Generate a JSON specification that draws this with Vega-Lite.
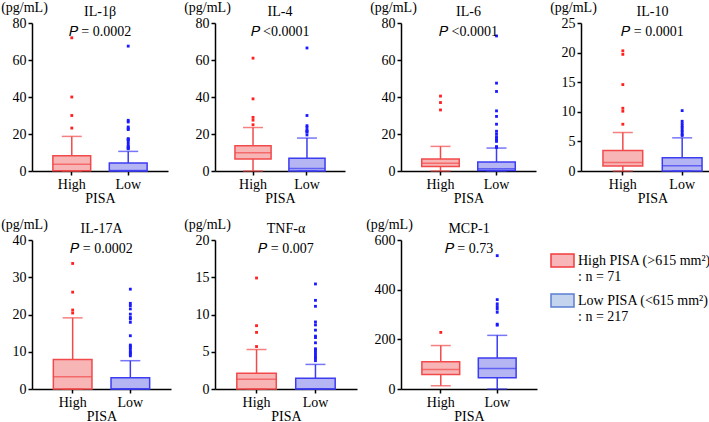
{
  "$schema": "https://vega.github.io/schema/vega-lite/v6.json",
  "padding": 0,
  "background": "white",
  "datasets": {
    "box": [
      {"c": "IL-1β", "g": "High", "lo": 0, "q1": 0.2, "med": 3.6, "q3": 8.3, "hi": 18.7},
      {"c": "IL-1β", "g": "Low", "lo": 0, "q1": 0, "med": 0.3, "q3": 4.3, "hi": 10.6},
      {"c": "IL-4", "g": "High", "lo": 0, "q1": 6.5, "med": 9.8, "q3": 13.6, "hi": 23.5},
      {"c": "IL-4", "g": "Low", "lo": 0, "q1": 0, "med": 1.4, "q3": 6.9, "hi": 17.8},
      {"c": "IL-6", "g": "High", "lo": 0, "q1": 2.4, "med": 4.2, "q3": 6.5, "hi": 13.3},
      {"c": "IL-6", "g": "Low", "lo": 0, "q1": 0.3, "med": 1.2, "q3": 4.9, "hi": 12.4},
      {"c": "IL-10", "g": "High", "lo": 0, "q1": 0.85, "med": 1.45, "q3": 3.45, "hi": 6.5},
      {"c": "IL-10", "g": "Low", "lo": 0, "q1": 0, "med": 0.9, "q3": 2.25, "hi": 5.6},
      {"c": "IL-17A", "g": "High", "lo": 0, "q1": 0, "med": 3.3, "q3": 7.9, "hi": 19.1},
      {"c": "IL-17A", "g": "Low", "lo": 0, "q1": 0, "med": 0.1, "q3": 3.0, "hi": 7.6},
      {"c": "TNF-α", "g": "High", "lo": 0, "q1": 0, "med": 1.3, "q3": 2.1, "hi": 5.3},
      {"c": "TNF-α", "g": "Low", "lo": 0, "q1": 0, "med": 0.05, "q3": 1.45, "hi": 3.3},
      {"c": "MCP-1", "g": "High", "lo": 13, "q1": 58, "med": 79, "q3": 110, "hi": 175},
      {"c": "MCP-1", "g": "Low", "lo": 0, "q1": 45, "med": 83, "q3": 125, "hi": 216}
    ],
    "out": [
      {"c": "IL-1β", "g": "High", "v": 72}, {"c": "IL-1β", "g": "High", "v": 40}, {"c": "IL-1β", "g": "High", "v": 30}, {"c": "IL-1β", "g": "High", "v": 23.2},
      {"c": "IL-1β", "g": "Low", "v": 67.5}, {"c": "IL-1β", "g": "Low", "v": 27.4}, {"c": "IL-1β", "g": "Low", "v": 26.5}, {"c": "IL-1β", "g": "Low", "v": 23.8}, {"c": "IL-1β", "g": "Low", "v": 22.9}, {"c": "IL-1β", "g": "Low", "v": 22.4}, {"c": "IL-1β", "g": "Low", "v": 17.5}, {"c": "IL-1β", "g": "Low", "v": 17.1}, {"c": "IL-1β", "g": "Low", "v": 16.8}, {"c": "IL-1β", "g": "Low", "v": 15.7}, {"c": "IL-1β", "g": "Low", "v": 14.4}, {"c": "IL-1β", "g": "Low", "v": 13.3}, {"c": "IL-1β", "g": "Low", "v": 12.8}, {"c": "IL-1β", "g": "Low", "v": 12.3}, {"c": "IL-1β", "g": "Low", "v": 12.0},
      {"c": "IL-4", "g": "High", "v": 61}, {"c": "IL-4", "g": "High", "v": 39}, {"c": "IL-4", "g": "High", "v": 29}, {"c": "IL-4", "g": "High", "v": 27.5}, {"c": "IL-4", "g": "High", "v": 25},
      {"c": "IL-4", "g": "Low", "v": 66.5}, {"c": "IL-4", "g": "Low", "v": 30}, {"c": "IL-4", "g": "Low", "v": 24.5}, {"c": "IL-4", "g": "Low", "v": 23.5}, {"c": "IL-4", "g": "Low", "v": 22}, {"c": "IL-4", "g": "Low", "v": 21.5}, {"c": "IL-4", "g": "Low", "v": 21}, {"c": "IL-4", "g": "Low", "v": 19.5},
      {"c": "IL-6", "g": "High", "v": 40.5}, {"c": "IL-6", "g": "High", "v": 37}, {"c": "IL-6", "g": "High", "v": 33},
      {"c": "IL-6", "g": "Low", "v": 73}, {"c": "IL-6", "g": "Low", "v": 47.5}, {"c": "IL-6", "g": "Low", "v": 43}, {"c": "IL-6", "g": "Low", "v": 32.5}, {"c": "IL-6", "g": "Low", "v": 29.5}, {"c": "IL-6", "g": "Low", "v": 25.3}, {"c": "IL-6", "g": "Low", "v": 21.5}, {"c": "IL-6", "g": "Low", "v": 20}, {"c": "IL-6", "g": "Low", "v": 18.5}, {"c": "IL-6", "g": "Low", "v": 17.6}, {"c": "IL-6", "g": "Low", "v": 16.7}, {"c": "IL-6", "g": "Low", "v": 16}, {"c": "IL-6", "g": "Low", "v": 13.2}, {"c": "IL-6", "g": "Low", "v": 12.7},
      {"c": "IL-10", "g": "High", "v": 20.3}, {"c": "IL-10", "g": "High", "v": 19.7}, {"c": "IL-10", "g": "High", "v": 14.6}, {"c": "IL-10", "g": "High", "v": 10.6}, {"c": "IL-10", "g": "High", "v": 10.1}, {"c": "IL-10", "g": "High", "v": 7.9},
      {"c": "IL-10", "g": "Low", "v": 10.2}, {"c": "IL-10", "g": "Low", "v": 8.4}, {"c": "IL-10", "g": "Low", "v": 8.0}, {"c": "IL-10", "g": "Low", "v": 7.6}, {"c": "IL-10", "g": "Low", "v": 7.3}, {"c": "IL-10", "g": "Low", "v": 6.9}, {"c": "IL-10", "g": "Low", "v": 6.6}, {"c": "IL-10", "g": "Low", "v": 6.2}, {"c": "IL-10", "g": "Low", "v": 6.0},
      {"c": "IL-17A", "g": "High", "v": 33.7}, {"c": "IL-17A", "g": "High", "v": 26}, {"c": "IL-17A", "g": "High", "v": 21.2}, {"c": "IL-17A", "g": "High", "v": 20.4},
      {"c": "IL-17A", "g": "Low", "v": 26.8}, {"c": "IL-17A", "g": "Low", "v": 23}, {"c": "IL-17A", "g": "Low", "v": 22.4}, {"c": "IL-17A", "g": "Low", "v": 21.5}, {"c": "IL-17A", "g": "Low", "v": 20.1}, {"c": "IL-17A", "g": "Low", "v": 19.2}, {"c": "IL-17A", "g": "Low", "v": 18.8}, {"c": "IL-17A", "g": "Low", "v": 17.9}, {"c": "IL-17A", "g": "Low", "v": 14.3}, {"c": "IL-17A", "g": "Low", "v": 11.8}, {"c": "IL-17A", "g": "Low", "v": 11.5}, {"c": "IL-17A", "g": "Low", "v": 11.1}, {"c": "IL-17A", "g": "Low", "v": 10.6}, {"c": "IL-17A", "g": "Low", "v": 10}, {"c": "IL-17A", "g": "Low", "v": 9.7}, {"c": "IL-17A", "g": "Low", "v": 9.3}, {"c": "IL-17A", "g": "Low", "v": 8.9},
      {"c": "TNF-α", "g": "High", "v": 14.9}, {"c": "TNF-α", "g": "High", "v": 8.5}, {"c": "TNF-α", "g": "High", "v": 7.6}, {"c": "TNF-α", "g": "High", "v": 5.7},
      {"c": "TNF-α", "g": "Low", "v": 14.1}, {"c": "TNF-α", "g": "Low", "v": 11.9}, {"c": "TNF-α", "g": "Low", "v": 11.1}, {"c": "TNF-α", "g": "Low", "v": 9.0}, {"c": "TNF-α", "g": "Low", "v": 8.6}, {"c": "TNF-α", "g": "Low", "v": 7.9}, {"c": "TNF-α", "g": "Low", "v": 7.1}, {"c": "TNF-α", "g": "Low", "v": 6.9}, {"c": "TNF-α", "g": "Low", "v": 6.2}, {"c": "TNF-α", "g": "Low", "v": 5.4}, {"c": "TNF-α", "g": "Low", "v": 5.2}, {"c": "TNF-α", "g": "Low", "v": 4.9}, {"c": "TNF-α", "g": "Low", "v": 4.6}, {"c": "TNF-α", "g": "Low", "v": 4.3}, {"c": "TNF-α", "g": "Low", "v": 4.1}, {"c": "TNF-α", "g": "Low", "v": 3.8},
      {"c": "MCP-1", "g": "High", "v": 228},
      {"c": "MCP-1", "g": "Low", "v": 537}, {"c": "MCP-1", "g": "Low", "v": 360}, {"c": "MCP-1", "g": "Low", "v": 343}, {"c": "MCP-1", "g": "Low", "v": 332}, {"c": "MCP-1", "g": "Low", "v": 322}, {"c": "MCP-1", "g": "Low", "v": 309}, {"c": "MCP-1", "g": "Low", "v": 261}, {"c": "MCP-1", "g": "Low", "v": 257}
    ]
  },
  "columns": 4,
  "align": "none",
  "bounds": "flush",
  "spacing": {"row": 69, "column": 44},
  "concat": [
    {
      "width": 136, "height": 148,
      "title": {"text": "IL-1β", "subtitle": "𝑃 = 0.0002"},
      "data": {"name": "box"},
      "transform": [{"filter": "datum.c === 'IL-1β'"}],
      "encoding": {"x": {"field": "g", "type": "nominal", "title": "PISA", "sort": ["High", "Low"], "scale": {"paddingInner": 0.33, "paddingOuter": 0.37}}},
      "layer": [
        {"mark": {"type": "rule", "strokeWidth": 1.5}, "encoding": {"y": {"field": "lo", "type": "quantitative", "title": "(pg/mL)", "scale": {"domain": [0, 80], "nice": false}, "axis": {"values": [0, 20, 40, 60, 80], "labelOverlap": false}}, "y2": {"field": "hi"}, "color": {"condition": {"test": "datum.g === 'High'", "value": "#f24a4a"}, "value": "#3c3cf2"}}},
        {"mark": {"type": "bar", "strokeWidth": 1.5}, "encoding": {"y": {"field": "q1", "type": "quantitative", "title": "(pg/mL)", "axis": {"values": [0, 20, 40, 60, 80], "labelOverlap": false}}, "y2": {"field": "q3"}, "fill": {"condition": {"test": "datum.g === 'High'", "value": "#f7b5b6"}, "value": "#b5b5f3"}, "stroke": {"condition": {"test": "datum.g === 'High'", "value": "#f24a4a"}, "value": "#3c3cf2"}}},
        {"mark": {"type": "tick", "size": 37.8, "thickness": 1.5}, "encoding": {"y": {"field": "med", "type": "quantitative", "title": "(pg/mL)", "axis": {"values": [0, 20, 40, 60, 80], "labelOverlap": false}}, "color": {"condition": {"test": "datum.g === 'High'", "value": "#f24a4a"}, "value": "#3c3cf2"}}},
        {"mark": {"type": "tick", "size": 20, "thickness": 1.5}, "encoding": {"y": {"field": "hi", "type": "quantitative", "title": "(pg/mL)", "axis": {"values": [0, 20, 40, 60, 80], "labelOverlap": false}}, "color": {"condition": {"test": "datum.g === 'High'", "value": "#f24a4a"}, "value": "#3c3cf2"}}},
        {"mark": {"type": "tick", "size": 20, "thickness": 1.5}, "encoding": {"y": {"field": "lo", "type": "quantitative", "title": "(pg/mL)", "axis": {"values": [0, 20, 40, 60, 80], "labelOverlap": false}}, "color": {"condition": {"test": "datum.g === 'High'", "value": "#f24a4a"}, "value": "#3c3cf2"}}},
        {"data": {"name": "out"}, "transform": [{"filter": "datum.c === 'IL-1β'"}], "mark": {"type": "point", "filled": true, "shape": "square", "size": 8, "opacity": 1}, "encoding": {"y": {"field": "v", "type": "quantitative", "title": "(pg/mL)", "axis": {"values": [0, 20, 40, 60, 80], "labelOverlap": false}}, "color": {"condition": {"test": "datum.g === 'High'", "value": "#ff2020"}, "value": "#1a1aff"}}}
      ]
    },
    {
      "width": 130, "height": 148,
      "title": {"text": "IL-4", "subtitle": "𝑃 <0.0001"},
      "data": {"name": "box"},
      "transform": [{"filter": "datum.c === 'IL-4'"}],
      "encoding": {"x": {"field": "g", "type": "nominal", "title": "PISA", "sort": ["High", "Low"], "scale": {"paddingInner": 0.33, "paddingOuter": 0.37}}},
      "layer": [
        {"mark": {"type": "rule", "strokeWidth": 1.5}, "encoding": {"y": {"field": "lo", "type": "quantitative", "title": "(pg/mL)", "scale": {"domain": [0, 80], "nice": false}, "axis": {"values": [0, 20, 40, 60, 80], "labelOverlap": false}}, "y2": {"field": "hi"}, "color": {"condition": {"test": "datum.g === 'High'", "value": "#f24a4a"}, "value": "#3c3cf2"}}},
        {"mark": {"type": "bar", "strokeWidth": 1.5}, "encoding": {"y": {"field": "q1", "type": "quantitative", "title": "(pg/mL)", "axis": {"values": [0, 20, 40, 60, 80], "labelOverlap": false}}, "y2": {"field": "q3"}, "fill": {"condition": {"test": "datum.g === 'High'", "value": "#f7b5b6"}, "value": "#b5b5f3"}, "stroke": {"condition": {"test": "datum.g === 'High'", "value": "#f24a4a"}, "value": "#3c3cf2"}}},
        {"mark": {"type": "tick", "size": 36.1, "thickness": 1.5}, "encoding": {"y": {"field": "med", "type": "quantitative", "title": "(pg/mL)", "axis": {"values": [0, 20, 40, 60, 80], "labelOverlap": false}}, "color": {"condition": {"test": "datum.g === 'High'", "value": "#f24a4a"}, "value": "#3c3cf2"}}},
        {"mark": {"type": "tick", "size": 20, "thickness": 1.5}, "encoding": {"y": {"field": "hi", "type": "quantitative", "title": "(pg/mL)", "axis": {"values": [0, 20, 40, 60, 80], "labelOverlap": false}}, "color": {"condition": {"test": "datum.g === 'High'", "value": "#f24a4a"}, "value": "#3c3cf2"}}},
        {"mark": {"type": "tick", "size": 20, "thickness": 1.5}, "encoding": {"y": {"field": "lo", "type": "quantitative", "title": "(pg/mL)", "axis": {"values": [0, 20, 40, 60, 80], "labelOverlap": false}}, "color": {"condition": {"test": "datum.g === 'High'", "value": "#f24a4a"}, "value": "#3c3cf2"}}},
        {"data": {"name": "out"}, "transform": [{"filter": "datum.c === 'IL-4'"}], "mark": {"type": "point", "filled": true, "shape": "square", "size": 8, "opacity": 1}, "encoding": {"y": {"field": "v", "type": "quantitative", "title": "(pg/mL)", "axis": {"values": [0, 20, 40, 60, 80], "labelOverlap": false}}, "color": {"condition": {"test": "datum.g === 'High'", "value": "#ff2020"}, "value": "#1a1aff"}}}
      ]
    },
    {
      "width": 135, "height": 148,
      "title": {"text": "IL-6", "subtitle": "𝑃 <0.0001"},
      "data": {"name": "box"},
      "transform": [{"filter": "datum.c === 'IL-6'"}],
      "encoding": {"x": {"field": "g", "type": "nominal", "title": "PISA", "sort": ["High", "Low"], "scale": {"paddingInner": 0.33, "paddingOuter": 0.37}}},
      "layer": [
        {"mark": {"type": "rule", "strokeWidth": 1.5}, "encoding": {"y": {"field": "lo", "type": "quantitative", "title": "(pg/mL)", "scale": {"domain": [0, 80], "nice": false}, "axis": {"values": [0, 20, 40, 60, 80], "labelOverlap": false}}, "y2": {"field": "hi"}, "color": {"condition": {"test": "datum.g === 'High'", "value": "#f24a4a"}, "value": "#3c3cf2"}}},
        {"mark": {"type": "bar", "strokeWidth": 1.5}, "encoding": {"y": {"field": "q1", "type": "quantitative", "title": "(pg/mL)", "axis": {"values": [0, 20, 40, 60, 80], "labelOverlap": false}}, "y2": {"field": "q3"}, "fill": {"condition": {"test": "datum.g === 'High'", "value": "#f7b5b6"}, "value": "#b5b5f3"}, "stroke": {"condition": {"test": "datum.g === 'High'", "value": "#f24a4a"}, "value": "#3c3cf2"}}},
        {"mark": {"type": "tick", "size": 37.5, "thickness": 1.5}, "encoding": {"y": {"field": "med", "type": "quantitative", "title": "(pg/mL)", "axis": {"values": [0, 20, 40, 60, 80], "labelOverlap": false}}, "color": {"condition": {"test": "datum.g === 'High'", "value": "#f24a4a"}, "value": "#3c3cf2"}}},
        {"mark": {"type": "tick", "size": 20, "thickness": 1.5}, "encoding": {"y": {"field": "hi", "type": "quantitative", "title": "(pg/mL)", "axis": {"values": [0, 20, 40, 60, 80], "labelOverlap": false}}, "color": {"condition": {"test": "datum.g === 'High'", "value": "#f24a4a"}, "value": "#3c3cf2"}}},
        {"mark": {"type": "tick", "size": 20, "thickness": 1.5}, "encoding": {"y": {"field": "lo", "type": "quantitative", "title": "(pg/mL)", "axis": {"values": [0, 20, 40, 60, 80], "labelOverlap": false}}, "color": {"condition": {"test": "datum.g === 'High'", "value": "#f24a4a"}, "value": "#3c3cf2"}}},
        {"data": {"name": "out"}, "transform": [{"filter": "datum.c === 'IL-6'"}], "mark": {"type": "point", "filled": true, "shape": "square", "size": 8, "opacity": 1}, "encoding": {"y": {"field": "v", "type": "quantitative", "title": "(pg/mL)", "axis": {"values": [0, 20, 40, 60, 80], "labelOverlap": false}}, "color": {"condition": {"test": "datum.g === 'High'", "value": "#ff2020"}, "value": "#1a1aff"}}}
      ]
    },
    {
      "width": 143, "height": 148,
      "title": {"text": "IL-10", "subtitle": "𝑃 = 0.0001"},
      "data": {"name": "box"},
      "transform": [{"filter": "datum.c === 'IL-10'"}],
      "encoding": {"x": {"field": "g", "type": "nominal", "title": "PISA", "sort": ["High", "Low"], "scale": {"paddingInner": 0.33, "paddingOuter": 0.37}}},
      "layer": [
        {"mark": {"type": "rule", "strokeWidth": 1.5}, "encoding": {"y": {"field": "lo", "type": "quantitative", "title": "(pg/mL)", "scale": {"domain": [0, 25], "nice": false}, "axis": {"values": [0, 5, 10, 15, 20, 25], "labelOverlap": false}}, "y2": {"field": "hi"}, "color": {"condition": {"test": "datum.g === 'High'", "value": "#f24a4a"}, "value": "#3c3cf2"}}},
        {"mark": {"type": "bar", "strokeWidth": 1.5}, "encoding": {"y": {"field": "q1", "type": "quantitative", "title": "(pg/mL)", "axis": {"values": [0, 5, 10, 15, 20, 25], "labelOverlap": false}}, "y2": {"field": "q3"}, "fill": {"condition": {"test": "datum.g === 'High'", "value": "#f7b5b6"}, "value": "#b5b5f3"}, "stroke": {"condition": {"test": "datum.g === 'High'", "value": "#f24a4a"}, "value": "#3c3cf2"}}},
        {"mark": {"type": "tick", "size": 39.8, "thickness": 1.5}, "encoding": {"y": {"field": "med", "type": "quantitative", "title": "(pg/mL)", "axis": {"values": [0, 5, 10, 15, 20, 25], "labelOverlap": false}}, "color": {"condition": {"test": "datum.g === 'High'", "value": "#f24a4a"}, "value": "#3c3cf2"}}},
        {"mark": {"type": "tick", "size": 20, "thickness": 1.5}, "encoding": {"y": {"field": "hi", "type": "quantitative", "title": "(pg/mL)", "axis": {"values": [0, 5, 10, 15, 20, 25], "labelOverlap": false}}, "color": {"condition": {"test": "datum.g === 'High'", "value": "#f24a4a"}, "value": "#3c3cf2"}}},
        {"mark": {"type": "tick", "size": 20, "thickness": 1.5}, "encoding": {"y": {"field": "lo", "type": "quantitative", "title": "(pg/mL)", "axis": {"values": [0, 5, 10, 15, 20, 25], "labelOverlap": false}}, "color": {"condition": {"test": "datum.g === 'High'", "value": "#f24a4a"}, "value": "#3c3cf2"}}},
        {"data": {"name": "out"}, "transform": [{"filter": "datum.c === 'IL-10'"}], "mark": {"type": "point", "filled": true, "shape": "square", "size": 8, "opacity": 1}, "encoding": {"y": {"field": "v", "type": "quantitative", "title": "(pg/mL)", "axis": {"values": [0, 5, 10, 15, 20, 25], "labelOverlap": false}}, "color": {"condition": {"test": "datum.g === 'High'", "value": "#ff2020"}, "value": "#1a1aff"}}}
      ]
    },
    {
      "width": 139, "height": 149,
      "title": {"text": "IL-17A", "subtitle": "𝑃 = 0.0002"},
      "data": {"name": "box"},
      "transform": [{"filter": "datum.c === 'IL-17A'"}],
      "encoding": {"x": {"field": "g", "type": "nominal", "title": "PISA", "sort": ["High", "Low"], "scale": {"paddingInner": 0.33, "paddingOuter": 0.37}}},
      "layer": [
        {"mark": {"type": "rule", "strokeWidth": 1.5}, "encoding": {"y": {"field": "lo", "type": "quantitative", "title": "(pg/mL)", "scale": {"domain": [0, 40], "nice": false}, "axis": {"values": [0, 10, 20, 30, 40], "labelOverlap": false}}, "y2": {"field": "hi"}, "color": {"condition": {"test": "datum.g === 'High'", "value": "#f24a4a"}, "value": "#3c3cf2"}}},
        {"mark": {"type": "bar", "strokeWidth": 1.5}, "encoding": {"y": {"field": "q1", "type": "quantitative", "title": "(pg/mL)", "axis": {"values": [0, 10, 20, 30, 40], "labelOverlap": false}}, "y2": {"field": "q3"}, "fill": {"condition": {"test": "datum.g === 'High'", "value": "#f7b5b6"}, "value": "#b5b5f3"}, "stroke": {"condition": {"test": "datum.g === 'High'", "value": "#f24a4a"}, "value": "#3c3cf2"}}},
        {"mark": {"type": "tick", "size": 38.6, "thickness": 1.5}, "encoding": {"y": {"field": "med", "type": "quantitative", "title": "(pg/mL)", "axis": {"values": [0, 10, 20, 30, 40], "labelOverlap": false}}, "color": {"condition": {"test": "datum.g === 'High'", "value": "#f24a4a"}, "value": "#3c3cf2"}}},
        {"mark": {"type": "tick", "size": 20, "thickness": 1.5}, "encoding": {"y": {"field": "hi", "type": "quantitative", "title": "(pg/mL)", "axis": {"values": [0, 10, 20, 30, 40], "labelOverlap": false}}, "color": {"condition": {"test": "datum.g === 'High'", "value": "#f24a4a"}, "value": "#3c3cf2"}}},
        {"mark": {"type": "tick", "size": 20, "thickness": 1.5}, "encoding": {"y": {"field": "lo", "type": "quantitative", "title": "(pg/mL)", "axis": {"values": [0, 10, 20, 30, 40], "labelOverlap": false}}, "color": {"condition": {"test": "datum.g === 'High'", "value": "#f24a4a"}, "value": "#3c3cf2"}}},
        {"data": {"name": "out"}, "transform": [{"filter": "datum.c === 'IL-17A'"}], "mark": {"type": "point", "filled": true, "shape": "square", "size": 8, "opacity": 1}, "encoding": {"y": {"field": "v", "type": "quantitative", "title": "(pg/mL)", "axis": {"values": [0, 10, 20, 30, 40], "labelOverlap": false}}, "color": {"condition": {"test": "datum.g === 'High'", "value": "#ff2020"}, "value": "#1a1aff"}}}
      ]
    },
    {
      "width": 142, "height": 149,
      "title": {"text": "TNF-α", "subtitle": "𝑃 = 0.007"},
      "data": {"name": "box"},
      "transform": [{"filter": "datum.c === 'TNF-α'"}],
      "encoding": {"x": {"field": "g", "type": "nominal", "title": "PISA", "sort": ["High", "Low"], "scale": {"paddingInner": 0.33, "paddingOuter": 0.37}}},
      "layer": [
        {"mark": {"type": "rule", "strokeWidth": 1.5}, "encoding": {"y": {"field": "lo", "type": "quantitative", "title": "(pg/mL)", "scale": {"domain": [0, 20], "nice": false}, "axis": {"values": [0, 5, 10, 15, 20], "labelOverlap": false}}, "y2": {"field": "hi"}, "color": {"condition": {"test": "datum.g === 'High'", "value": "#f24a4a"}, "value": "#3c3cf2"}}},
        {"mark": {"type": "bar", "strokeWidth": 1.5}, "encoding": {"y": {"field": "q1", "type": "quantitative", "title": "(pg/mL)", "axis": {"values": [0, 5, 10, 15, 20], "labelOverlap": false}}, "y2": {"field": "q3"}, "fill": {"condition": {"test": "datum.g === 'High'", "value": "#f7b5b6"}, "value": "#b5b5f3"}, "stroke": {"condition": {"test": "datum.g === 'High'", "value": "#f24a4a"}, "value": "#3c3cf2"}}},
        {"mark": {"type": "tick", "size": 39.5, "thickness": 1.5}, "encoding": {"y": {"field": "med", "type": "quantitative", "title": "(pg/mL)", "axis": {"values": [0, 5, 10, 15, 20], "labelOverlap": false}}, "color": {"condition": {"test": "datum.g === 'High'", "value": "#f24a4a"}, "value": "#3c3cf2"}}},
        {"mark": {"type": "tick", "size": 20, "thickness": 1.5}, "encoding": {"y": {"field": "hi", "type": "quantitative", "title": "(pg/mL)", "axis": {"values": [0, 5, 10, 15, 20], "labelOverlap": false}}, "color": {"condition": {"test": "datum.g === 'High'", "value": "#f24a4a"}, "value": "#3c3cf2"}}},
        {"mark": {"type": "tick", "size": 20, "thickness": 1.5}, "encoding": {"y": {"field": "lo", "type": "quantitative", "title": "(pg/mL)", "axis": {"values": [0, 5, 10, 15, 20], "labelOverlap": false}}, "color": {"condition": {"test": "datum.g === 'High'", "value": "#f24a4a"}, "value": "#3c3cf2"}}},
        {"data": {"name": "out"}, "transform": [{"filter": "datum.c === 'TNF-α'"}], "mark": {"type": "point", "filled": true, "shape": "square", "size": 8, "opacity": 1}, "encoding": {"y": {"field": "v", "type": "quantitative", "title": "(pg/mL)", "axis": {"values": [0, 5, 10, 15, 20], "labelOverlap": false}}, "color": {"condition": {"test": "datum.g === 'High'", "value": "#ff2020"}, "value": "#1a1aff"}}}
      ]
    },
    {
      "width": 136, "height": 149,
      "title": {"text": "MCP-1", "subtitle": "𝑃 = 0.73"},
      "data": {"name": "box"},
      "transform": [{"filter": "datum.c === 'MCP-1'"}],
      "encoding": {"x": {"field": "g", "type": "nominal", "title": "PISA", "sort": ["High", "Low"], "scale": {"paddingInner": 0.33, "paddingOuter": 0.37}}},
      "layer": [
        {"mark": {"type": "rule", "strokeWidth": 1.5}, "encoding": {"y": {"field": "lo", "type": "quantitative", "title": "(pg/mL)", "scale": {"domain": [0, 600], "nice": false}, "axis": {"values": [0, 200, 400, 600], "labelOverlap": false, "titleX": -12}}, "y2": {"field": "hi"}, "color": {"condition": {"test": "datum.g === 'High'", "value": "#f24a4a"}, "value": "#3c3cf2"}}},
        {"mark": {"type": "bar", "strokeWidth": 1.5}, "encoding": {"y": {"field": "q1", "type": "quantitative", "title": "(pg/mL)", "axis": {"values": [0, 200, 400, 600], "labelOverlap": false, "titleX": -12}}, "y2": {"field": "q3"}, "fill": {"condition": {"test": "datum.g === 'High'", "value": "#f7b5b6"}, "value": "#b5b5f3"}, "stroke": {"condition": {"test": "datum.g === 'High'", "value": "#f24a4a"}, "value": "#3c3cf2"}}},
        {"mark": {"type": "tick", "size": 37.8, "thickness": 1.5}, "encoding": {"y": {"field": "med", "type": "quantitative", "title": "(pg/mL)", "axis": {"values": [0, 200, 400, 600], "labelOverlap": false, "titleX": -12}}, "color": {"condition": {"test": "datum.g === 'High'", "value": "#f24a4a"}, "value": "#3c3cf2"}}},
        {"mark": {"type": "tick", "size": 20, "thickness": 1.5}, "encoding": {"y": {"field": "hi", "type": "quantitative", "title": "(pg/mL)", "axis": {"values": [0, 200, 400, 600], "labelOverlap": false, "titleX": -12}}, "color": {"condition": {"test": "datum.g === 'High'", "value": "#f24a4a"}, "value": "#3c3cf2"}}},
        {"mark": {"type": "tick", "size": 20, "thickness": 1.5}, "encoding": {"y": {"field": "lo", "type": "quantitative", "title": "(pg/mL)", "axis": {"values": [0, 200, 400, 600], "labelOverlap": false, "titleX": -12}}, "color": {"condition": {"test": "datum.g === 'High'", "value": "#f24a4a"}, "value": "#3c3cf2"}}},
        {"data": {"name": "out"}, "transform": [{"filter": "datum.c === 'MCP-1'"}], "mark": {"type": "point", "filled": true, "shape": "square", "size": 8, "opacity": 1}, "encoding": {"y": {"field": "v", "type": "quantitative", "title": "(pg/mL)", "axis": {"values": [0, 200, 400, 600], "labelOverlap": false, "titleX": -12}}, "color": {"condition": {"test": "datum.g === 'High'", "value": "#ff2020"}, "value": "#1a1aff"}}},
        {"mark": {"type": "point", "filled": true, "opacity": 0}, "encoding": {
          "y": {"field": "med", "type": "quantitative", "title": "(pg/mL)", "axis": {"values": [0, 200, 400, 600], "labelOverlap": false, "titleX": -12}},
          "fill": {"field": "g", "type": "nominal", "scale": {"domain": ["High", "Low"], "range": ["#f9b6b8", "#c5d4ee"]}, "legend": {"title": null, "orient": "none", "legendX": 518, "legendY": 225, "symbolType": "M-1,-0.57H1V0.57H-1Z", "symbolSize": 529, "symbolStrokeWidth": 1.5, "symbolOpacity": 1, "labelFont": "Liberation Serif", "labelFontSize": 14, "labelColor": "black", "labelBaseline": "middle", "labelLimit": 300, "labelOffset": 3, "rowPadding": 4, "padding": 0, "labelExpr": "datum.label === 'High' ? ['High PISA (>615 mm²)', ': n = 71'] : ['Low PISA (<615 mm²)', ': n = 217']"}},
          "stroke": {"field": "g", "type": "nominal", "scale": {"domain": ["High", "Low"], "range": ["#f03c3c", "#5a7fd2"]}, "legend": {"title": null, "orient": "none", "legendX": 518, "legendY": 225, "symbolType": "M-1,-0.57H1V0.57H-1Z", "symbolSize": 529, "symbolStrokeWidth": 1.5, "symbolOpacity": 1, "labelFont": "Liberation Serif", "labelFontSize": 14, "labelColor": "black", "labelBaseline": "middle", "labelLimit": 300, "labelOffset": 3, "rowPadding": 4, "padding": 0, "labelExpr": "datum.label === 'High' ? ['High PISA (>615 mm²)', ': n = 71'] : ['Low PISA (<615 mm²)', ': n = 217']"}}
        }}
      ]
    }
  ],
  "config": {
    "font": "Liberation Serif",
    "view": {"stroke": null},
    "axis": {"labelFont": "Liberation Serif", "labelFontSize": 14, "labelColor": "black", "labelOverlap": false, "titleFont": "Liberation Serif", "titleFontSize": 14, "titleFontWeight": "normal", "titleColor": "black", "domainColor": "black", "domainWidth": 1.5, "tickColor": "black", "tickWidth": 1.5, "tickSize": 4, "grid": false, "labelPadding": 2},
    "axisX": {"labelAngle": 0, "titlePadding": 0},
    "axisY": {"titleAngle": 0, "titleX": -8, "titleY": -16, "titleAlign": "center", "titleBaseline": "middle"},
    "title": {"font": "Liberation Serif", "fontSize": 14, "fontWeight": "normal", "color": "black", "subtitleFont": "Liberation Serif", "subtitleFontSize": 14, "subtitleColor": "black", "subtitlePadding": 6, "offset": -39, "frame": "group", "anchor": "middle"}
  }
}
